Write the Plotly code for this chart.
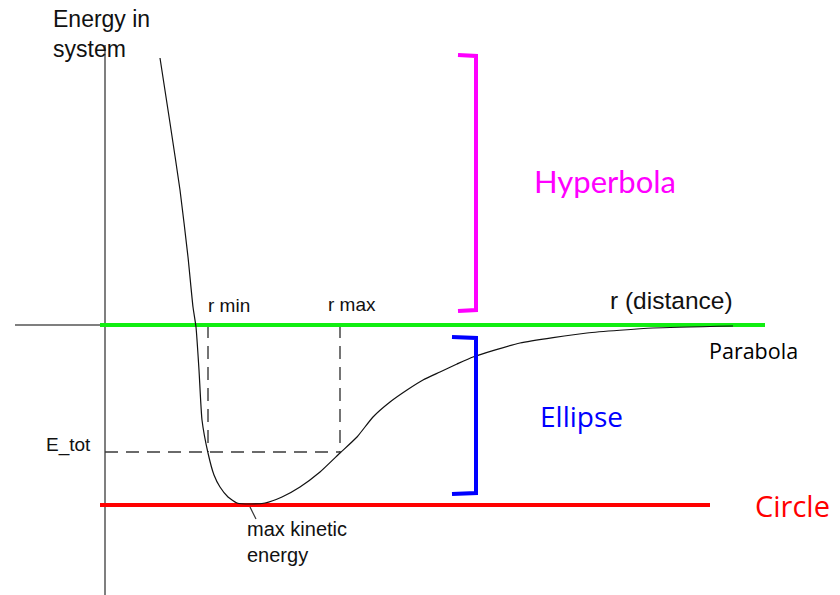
import plotly.graph_objects as go

# Potential-energy curve (r in arbitrary units, energy in arbitrary units, 0 = escape level)
r_curve = [0.55, 0.65, 0.75, 0.83, 0.88, 0.91, 0.94, 0.97, 1.03, 1.09, 1.15, 1.23, 1.32,
           1.45, 1.60, 1.77, 1.95, 2.15, 2.35, 2.52, 2.68, 2.85, 3.02, 3.18, 3.35, 3.52, 3.68,
           4.15, 4.82, 5.48, 6.28]
e_curve = [2.67, 2.02, 1.35, 0.68, 0.18, -0.02, -0.45, -0.95, -1.28, -1.50, -1.62, -1.72, -1.78,
           -1.79, -1.78, -1.72, -1.62, -1.47, -1.28, -1.12, -0.92, -0.77, -0.65, -0.55, -0.47, -0.39, -0.32,
           -0.18, -0.08, -0.03, -0.01]

E_tot = -1.27
r_min = 1.03
r_max = 2.35
E_circle = -1.80
E_parabola = 0.0

axis_r = [-0.90, 6.60]
axis_e = [2.80, -2.75]
green_r = [-0.05, 6.60]
red_r = [-0.05, 6.05]

hyper_bracket_r = [3.53, 3.71, 3.71, 3.53]
hyper_bracket_e = [2.70, 2.69, 0.15, 0.14]
ellipse_bracket_r = [3.47, 3.71, 3.71, 3.47]
ellipse_bracket_e = [-0.12, -0.13, -1.68, -1.69]

leader_r = [1.45, 1.51]
leader_e = [-1.82, -1.94]

fig = go.Figure()

def line(x, y, color, width, dash=None):
    fig.add_trace(go.Scatter(x=x, y=y, mode="lines", hoverinfo="skip",
                             line=dict(color=color, width=width, dash=dash)))

# axes
line(axis_r, [0, 0], "#555555", 1.5)
line([0, 0], axis_e, "#555555", 1.5)

# dashed guides
line([0, r_max], [E_tot, E_tot], "#3a3a3a", 1.4, "13px,8px")
line([r_min, r_min], [0, E_tot], "#3a3a3a", 1.4, "13px,8px")
line([r_max, r_max], [0, E_tot], "#3a3a3a", 1.4, "13px,8px")

# colored levels
line(green_r, [E_parabola, E_parabola], "#11ee11", 4)
line(red_r, [E_circle, E_circle], "#ff0000", 4)

# curve
fig.add_trace(go.Scatter(x=r_curve, y=e_curve, mode="lines", hoverinfo="skip",
                         line=dict(color="#111111", width=1.2, shape="spline", smoothing=0.5)))
line(leader_r, leader_e, "#333333", 1.2)

# brackets
line(hyper_bracket_r, hyper_bracket_e, "#ff00ff", 4)
line(ellipse_bracket_r, ellipse_bracket_e, "#0000ff", 4)

arial = "Liberation Sans, Arial, sans-serif"
lato = "Lato, sans-serif"
opens = "Open Sans, sans-serif"

def text(x, y, s, size, color="#111111", family=arial, xanchor="center", yanchor="middle"):
    fig.add_annotation(x=x, y=y, text=s, showarrow=False, xanchor=xanchor, yanchor=yanchor,
                       align="left", font=dict(size=size, color=color, family=family))

text(-0.54, 2.91, "Energy in<br>system", 23, xanchor="left", yanchor="middle")
text(1.24, 0.20, "r min", 19)
text(2.47, 0.21, "r max", 19)
text(5.66, 0.25, "r (distance)", 24.5)
text(6.48, -0.25, "Parabola", 21.5, color="#000000", family=opens)
text(4.76, -0.91, "Ellipse", 28, color="#0000ff", family=opens)
text(5.00, 1.44, "Hyperbola", 31, color="#ff00ff", family=lato)
text(6.87, -1.80, "Circle", 29, color="#ff0000", family=opens)
text(-0.37, -1.20, "E_tot", 19)
text(1.40, -1.91, "max kinetic<br>energy", 20, xanchor="left", yanchor="top")

# the page body adds an 8 px offset, so ranges are shifted to keep the drawing in place
fig.update_layout(
    width=840, height=595, margin=dict(l=0, r=0, t=0, b=0),
    paper_bgcolor="white", plot_bgcolor="white", showlegend=False,
    xaxis=dict(range=[-0.97, 7.43], visible=False, fixedrange=True),
    yaxis=dict(range=[-2.78, 3.17], visible=False, fixedrange=True),
)

fig.write_html("out.html")
